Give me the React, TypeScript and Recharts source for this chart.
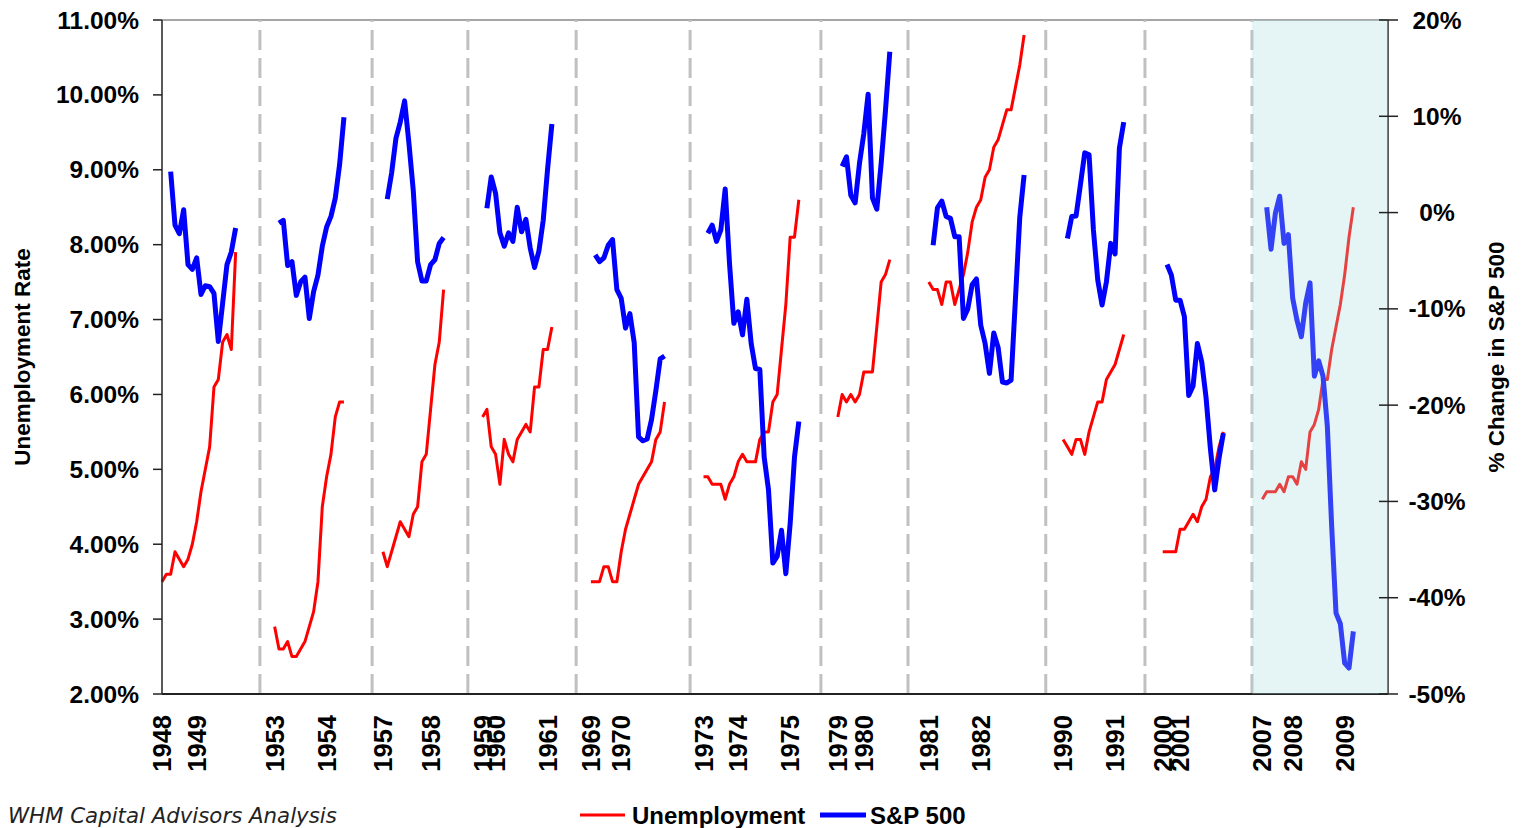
import React from 'react'
import { ComposedChart, Line, XAxis, YAxis, ReferenceLine, ReferenceArea, Legend } from 'recharts'

// first month plotted for each recession window
const starts = ['1948-05', '1953-01', '1957-02', '1959-10', '1969-06', '1973-05', '1979-07', '1981-01', '1990-01', '2000-09', '2007-06']

// unemployment rate, monthly (%)
const unemp1948 = [3.5, 3.6, 3.6, 3.9, 3.8, 3.7, 3.8, 4.0, 4.3, 4.7, 5.0, 5.3, 6.1, 6.2, 6.7, 6.8, 6.6, 7.9]
const unemp1953 = [2.9, 2.6, 2.6, 2.7, 2.5, 2.5, 2.6, 2.7, 2.9, 3.1, 3.5, 4.5, 4.9, 5.2, 5.7, 5.9, 5.9]
const unemp1957 = [3.9, 3.7, 3.9, 4.1, 4.3, 4.2, 4.1, 4.4, 4.5, 5.1, 5.2, 5.8, 6.4, 6.7, 7.4]
const unemp1960 = [5.7, 5.8, 5.3, 5.2, 4.8, 5.4, 5.2, 5.1, 5.4, 5.5, 5.6, 5.5, 6.1, 6.1, 6.6, 6.6, 6.9]
const unemp1969 = [3.5, 3.5, 3.5, 3.7, 3.7, 3.5, 3.5, 3.9, 4.2, 4.4, 4.6, 4.8, 4.9, 5.0, 5.1, 5.4, 5.5, 5.9]
const unemp1973 = [4.9, 4.9, 4.8, 4.8, 4.8, 4.6, 4.8, 4.9, 5.1, 5.2, 5.1, 5.1, 5.1, 5.4, 5.5, 5.5, 5.9, 6.0, 6.6, 7.2, 8.1, 8.1, 8.6]
const unemp1980 = [5.7, 6.0, 5.9, 6.0, 5.9, 6.0, 6.3, 6.3, 6.3, 6.9, 7.5, 7.6, 7.8]
const unemp1981 = [7.5, 7.4, 7.4, 7.2, 7.5, 7.5, 7.2, 7.4, 7.6, 7.9, 8.3, 8.5, 8.6, 8.9, 9.0, 9.3, 9.4, 9.6, 9.8, 9.8, 10.1, 10.4, 10.8]
const unemp1990 = [5.4, 5.3, 5.2, 5.4, 5.4, 5.2, 5.5, 5.7, 5.9, 5.9, 6.2, 6.3, 6.4, 6.6, 6.8]
const unemp2001 = [3.9, 3.9, 3.9, 3.9, 4.2, 4.2, 4.3, 4.4, 4.3, 4.5, 4.6, 4.9, 5.0, 5.3, 5.5]
const unemp2007 = [4.6, 4.7, 4.7, 4.7, 4.8, 4.7, 4.9, 4.9, 4.8, 5.1, 5.0, 5.5, 5.6, 5.8, 6.2, 6.2, 6.6, 6.9, 7.2, 7.6, 8.1, 8.5]

// % change in the S&P 500, same months
const sp1948 = [null, null, 4.25, -1.3, -2.2, 0.3, -5.4, -5.9, -4.7, -8.5, -7.6, -7.7, -8.4, -13.4, -9.4, -5.4, -4.1, -1.6]
const sp1953 = [null, -1.1, -0.8, -5.5, -5.1, -8.6, -7.2, -6.7, -11.0, -8.2, -6.5, -3.5, -1.5, -0.4, 1.5, 5.0, 9.9]
const sp1957 = [null, 1.4, 4.1, 7.7, 9.4, 11.6, 7.2, 2.3, -5.1, -7.1, -7.1, -5.4, -4.9, -3.2, -2.6]
const sp1960 = [null, 0.45, 3.7, 2.0, -2.1, -3.5, -2.1, -3.0, 0.55, -2.0, -0.7, -3.7, -5.7, -4.0, -0.8, 4.5, 9.2]
const sp1969 = [null, -4.4, -5.1, -4.7, -3.4, -2.8, -8.0, -8.9, -12.0, -10.5, -13.5, -23.3, -23.7, -23.5, -21.5, -18.5, -15.2, -14.9]
const sp1973 = [null, -2.15, -1.3, -3.0, -1.8, 2.45, -5.3, -11.5, -10.3, -12.7, -9.0, -13.6, -16.2, -16.3, -25.4, -28.8, -36.4, -35.7, -33.0, -37.5, -32.3, -25.4, -21.7]
const sp1980 = [null, 4.8, 5.8, 1.8, 1.0, 5.1, 8.2, 12.3, 1.5, 0.35, 5.1, 10.6, 16.7]
const sp1981 = [null, -3.4, 0.5, 1.2, -0.4, -0.6, -2.5, -2.5, -11.0, -10.0, -7.5, -6.9, -11.7, -13.6, -16.7, -12.5, -14.0, -17.6, -17.7, -17.4, -9.0, -0.5, 3.9]
const sp1990 = [null, -2.7, -0.4, -0.35, 2.9, 6.2, 6.0, -1.8, -7.0, -9.6, -7.2, -3.2, -4.3, 6.7, 9.4]
const sp2001 = [null, -5.4, -6.5, -9.1, -9.1, -10.8, -19.0, -18.0, -13.6, -15.5, -19.2, -24.5, -28.8, -25.5, -22.9]
const sp2007 = [null, 0.55, -3.8, -0.07, 1.7, -3.2, -2.3, -8.9, -11.2, -12.9, -9.4, -7.3, -17.0, -15.4, -17.0, -22.2, -32.6, -41.6, -42.7, -46.8, -47.3, -43.5]

const unemployment = [unemp1948, unemp1953, unemp1957, unemp1960, unemp1969, unemp1973, unemp1980, unemp1981, unemp1990, unemp2001, unemp2007]
const sp500 = [sp1948, sp1953, sp1957, sp1960, sp1969, sp1973, sp1980, sp1981, sp1990, sp2001, sp2007]

const leftTicks = [2, 3, 4, 5, 6, 7, 8, 9, 10, 11]
const rightTicks = [-50, -40, -30, -20, -10, 0, 10, 20]

// empty months between windows, and where the dashed dividers sit
const GAP = 8
const LAST_SLOT = 283
const dividers = [22.6, 48.5, 70.6, 95.6, 121.9, 152.1, 172.2, 204, 226.9, 251.6]

type Row = { i: number; u: number | null; sp: number | null }
const rows: Row[] = []
const tickSlots: number[] = []
const tickText: Record<number, string> = {}
let slot = 0
starts.forEach((start, n) => {
  const [y0, m0] = start.split('-').map(Number)
  unemployment[n].forEach((u, k) => {
    const m = m0 - 1 + k
    if (k === 0 || m % 12 === 0) {
      tickSlots.push(slot)
      tickText[slot] = String(y0 + Math.floor(m / 12))
    }
    rows.push({ i: slot, u, sp: sp500[n][k] ?? null })
    slot++
  })
  const pad = n < starts.length - 1 ? GAP : LAST_SLOT + 1 - slot
  for (let g = 0; g < pad; g++) rows.push({ i: slot++, u: null, sp: null })
})

const FONT = '"Liberation Sans", Arial, sans-serif'

const YearTick = (props: any) => {
  const { x, y, payload } = props
  const ty = y + 21
  return (
    <text x={x} y={ty} transform={`rotate(-90, ${x}, ${ty})`} textAnchor="end" dominantBaseline="central"
      fontFamily={FONT} fontWeight="bold" fontSize={25.5} fill="#000">
      {tickText[payload.value]}
    </text>
  )
}

const LeftTick = (props: any) => {
  const { x, y, payload } = props
  return (
    <g>
      <line x1={x - 9} x2={x} y1={y} y2={y} stroke="#222" strokeWidth={1.5} />
      <text x={x - 23} y={y} textAnchor="end" dominantBaseline="central" fontFamily={FONT} fontWeight="bold" fontSize={24.5} fill="#000">
        {payload.value.toFixed(2)}%
      </text>
    </g>
  )
}

const RightTick = (props: any) => {
  const { x, y, payload } = props
  return (
    <g>
      <line x1={x - 9} x2={x + 10} y1={y} y2={y} stroke="#222" strokeWidth={1.5} />
      <text x={x + 49} y={y} textAnchor="middle" dominantBaseline="central" fontFamily={FONT} fontWeight="bold" fontSize={24.5} fill="#000">
        {payload.value}%
      </text>
    </g>
  )
}

const axisTitle = (text: string, dx: number) => (props: any) => {
  const { viewBox } = props
  const cx = viewBox.x + dx
  const cy = viewBox.y + viewBox.height / 2
  return (
    <text x={cx} y={cy} transform={`rotate(-90, ${cx}, ${cy})`} textAnchor="middle" dominantBaseline="central"
      fontFamily={FONT} fontWeight="bold" fontSize={22.5} fill="#000">
      {text}
    </text>
  )
}

const LegendBox = () => (
  <svg width={420} height={30}>
    <line x1={2} x2={47} y1={15} y2={15} stroke="#ff0000" strokeWidth={3} />
    <text x={54} y={15} dominantBaseline="central" fontFamily={FONT} fontWeight="bold" fontSize={24} fill="#000">Unemployment</text>
    <line x1={242} x2={288} y1={15} y2={15} stroke="#0000ff" strokeWidth={5} />
    <text x={292} y={15} dominantBaseline="central" fontFamily={FONT} fontWeight="bold" fontSize={24} fill="#000">S&amp;P 500</text>
  </svg>
)

export default function App() {
  return (
    <div style={{ position: 'absolute', left: 0, top: 0, width: 1522, height: 828, background: '#fff', overflow: 'hidden' }}>
      <ComposedChart width={1522} height={828} data={rows} margin={{ top: 20, right: 0, bottom: 0, left: 0 }}>
        <XAxis type="number" dataKey="i" domain={[0, LAST_SLOT]} ticks={tickSlots} interval={0} height={134}
          tick={<YearTick />} tickLine={false} tickSize={0} tickMargin={0} axisLine={{ stroke: '#222', strokeWidth: 2 }} />
        <YAxis yAxisId="left" domain={[2, 11]} ticks={leftTicks} interval={0} width={162} tick={<LeftTick />}
          tickLine={false} tickSize={0} tickMargin={0} axisLine={{ stroke: '#222', strokeWidth: 1.5 }}
          label={axisTitle('Unemployment Rate', 22)} />
        <YAxis yAxisId="right" orientation="right" domain={[-50, 20]} ticks={rightTicks} interval={0} width={134}
          tick={<RightTick />} tickLine={false} tickSize={0} tickMargin={0} axisLine={{ stroke: '#222', strokeWidth: 1.5 }}
          label={axisTitle('% Change in S&P 500', 108)} />
        <ReferenceLine yAxisId="left" y={11} stroke="#a6a6a6" strokeWidth={2} />
        {dividers.map(d => (
          <ReferenceLine key={d} yAxisId="left" x={d} stroke="#c0c0c0" strokeWidth={3} strokeDasharray="20 8" />
        ))}
        <Line yAxisId="left" dataKey="u" name="Unemployment" stroke="#ff0000" strokeWidth={3} dot={false}
          strokeLinejoin="round" connectNulls={false} isAnimationActive={false} />
        <Line yAxisId="right" dataKey="sp" name="S&P 500" stroke="#0000ff" strokeWidth={5} dot={false}
          strokeLinejoin="round" connectNulls={false} isAnimationActive={false} />
        <ReferenceArea yAxisId="left" x1={dividers[dividers.length - 1]} x2={LAST_SLOT} fill="#a8dcdc" fillOpacity={0.3}
          stroke="none" {...({ zIndex: 1000 } as any)} />
        <Legend verticalAlign="middle" layout="horizontal"
          wrapperStyle={{ left: 578, top: 800, bottom: 'auto', width: 420, height: 30 }} content={() => <LegendBox />} />
      </ComposedChart>
      <div style={{ position: 'absolute', left: 8, top: 803, fontFamily: '"DejaVu Sans", Verdana, sans-serif', fontStyle: 'italic', fontSize: 21.3, color: '#222', whiteSpace: 'nowrap' }}>
        WHM Capital Advisors Analysis
      </div>
    </div>
  )
}
